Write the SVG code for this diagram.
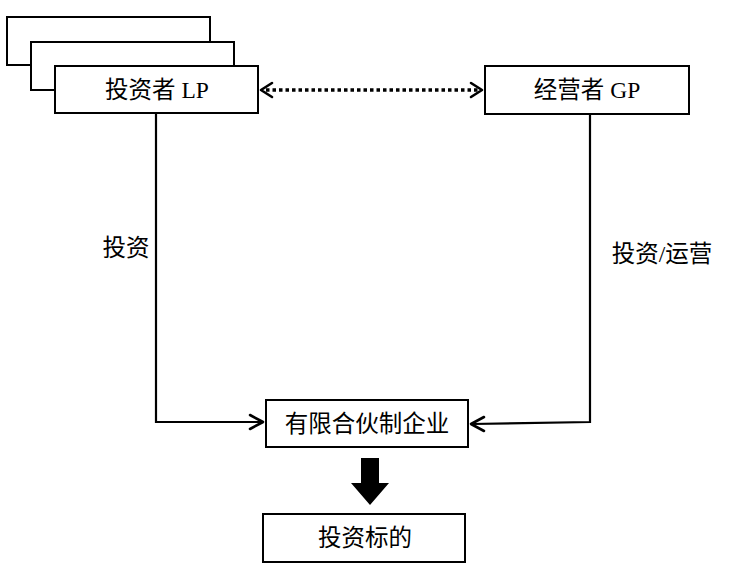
<svg xmlns="http://www.w3.org/2000/svg" width="734" height="574" viewBox="0 0 734 574">
<defs>
<style>
.box{fill:#fff;stroke:#000;stroke-width:2}
.lbl{font-family:"Liberation Serif","Noto Sans CJK SC",serif;font-size:23.5px;fill:#000}
.ln{fill:none;stroke:#000;stroke-width:2.2}
.head{fill:none;stroke:#000;stroke-width:2.6;stroke-linecap:round;stroke-linejoin:round}
</style>
</defs>
<rect width="734" height="574" fill="#fff"/>
<g id="connectors">
<path class="ln" d="M156,113 V422 H262"/>
<path class="head" d="M250,415 L263,422 L250,429"/>
<path class="ln" d="M590,114 V422 L472,424"/>
<path class="head" d="M484,417 L471,424 L484,431"/>
<line x1="266" y1="90" x2="478" y2="90" stroke="#000" stroke-width="3.5" stroke-dasharray="3.5,3"/>
<path class="head" d="M272,83 L261,90 L272,97" stroke-width="3.2"/>
<path class="head" d="M471,83 L482,90 L471,97" stroke-width="3.2"/>
<path d="M361,458 H379 V483 H389 L370,505 L351,483 H361 Z" fill="#000"/>
</g>
<g id="lp-stack">
<rect class="box" x="7" y="17" width="203" height="48"/>
<rect class="box" x="31" y="42" width="203" height="48"/>
</g>
<g id="lp">
<rect class="box" x="55" y="66" width="203" height="47"/>
<text class="lbl" x="157" y="98" text-anchor="middle">投资者 LP</text>
</g>
<g id="gp">
<rect class="box" x="485" y="66" width="204" height="48"/>
<text class="lbl" x="587" y="98" text-anchor="middle">经营者 GP</text>
</g>
<g id="partnership">
<rect class="box" x="266" y="400" width="202" height="47"/>
<text class="lbl" x="367" y="432" text-anchor="middle">有限合伙制企业</text>
</g>
<g id="target">
<rect class="box" x="263" y="514" width="202" height="48"/>
<text class="lbl" x="365" y="546" text-anchor="middle">投资标的</text>
</g>
<g id="labels">
<text class="lbl" x="126" y="256" text-anchor="middle">投资</text>
<text class="lbl" x="662" y="262" text-anchor="middle">投资/运营</text>
</g>
</svg>
